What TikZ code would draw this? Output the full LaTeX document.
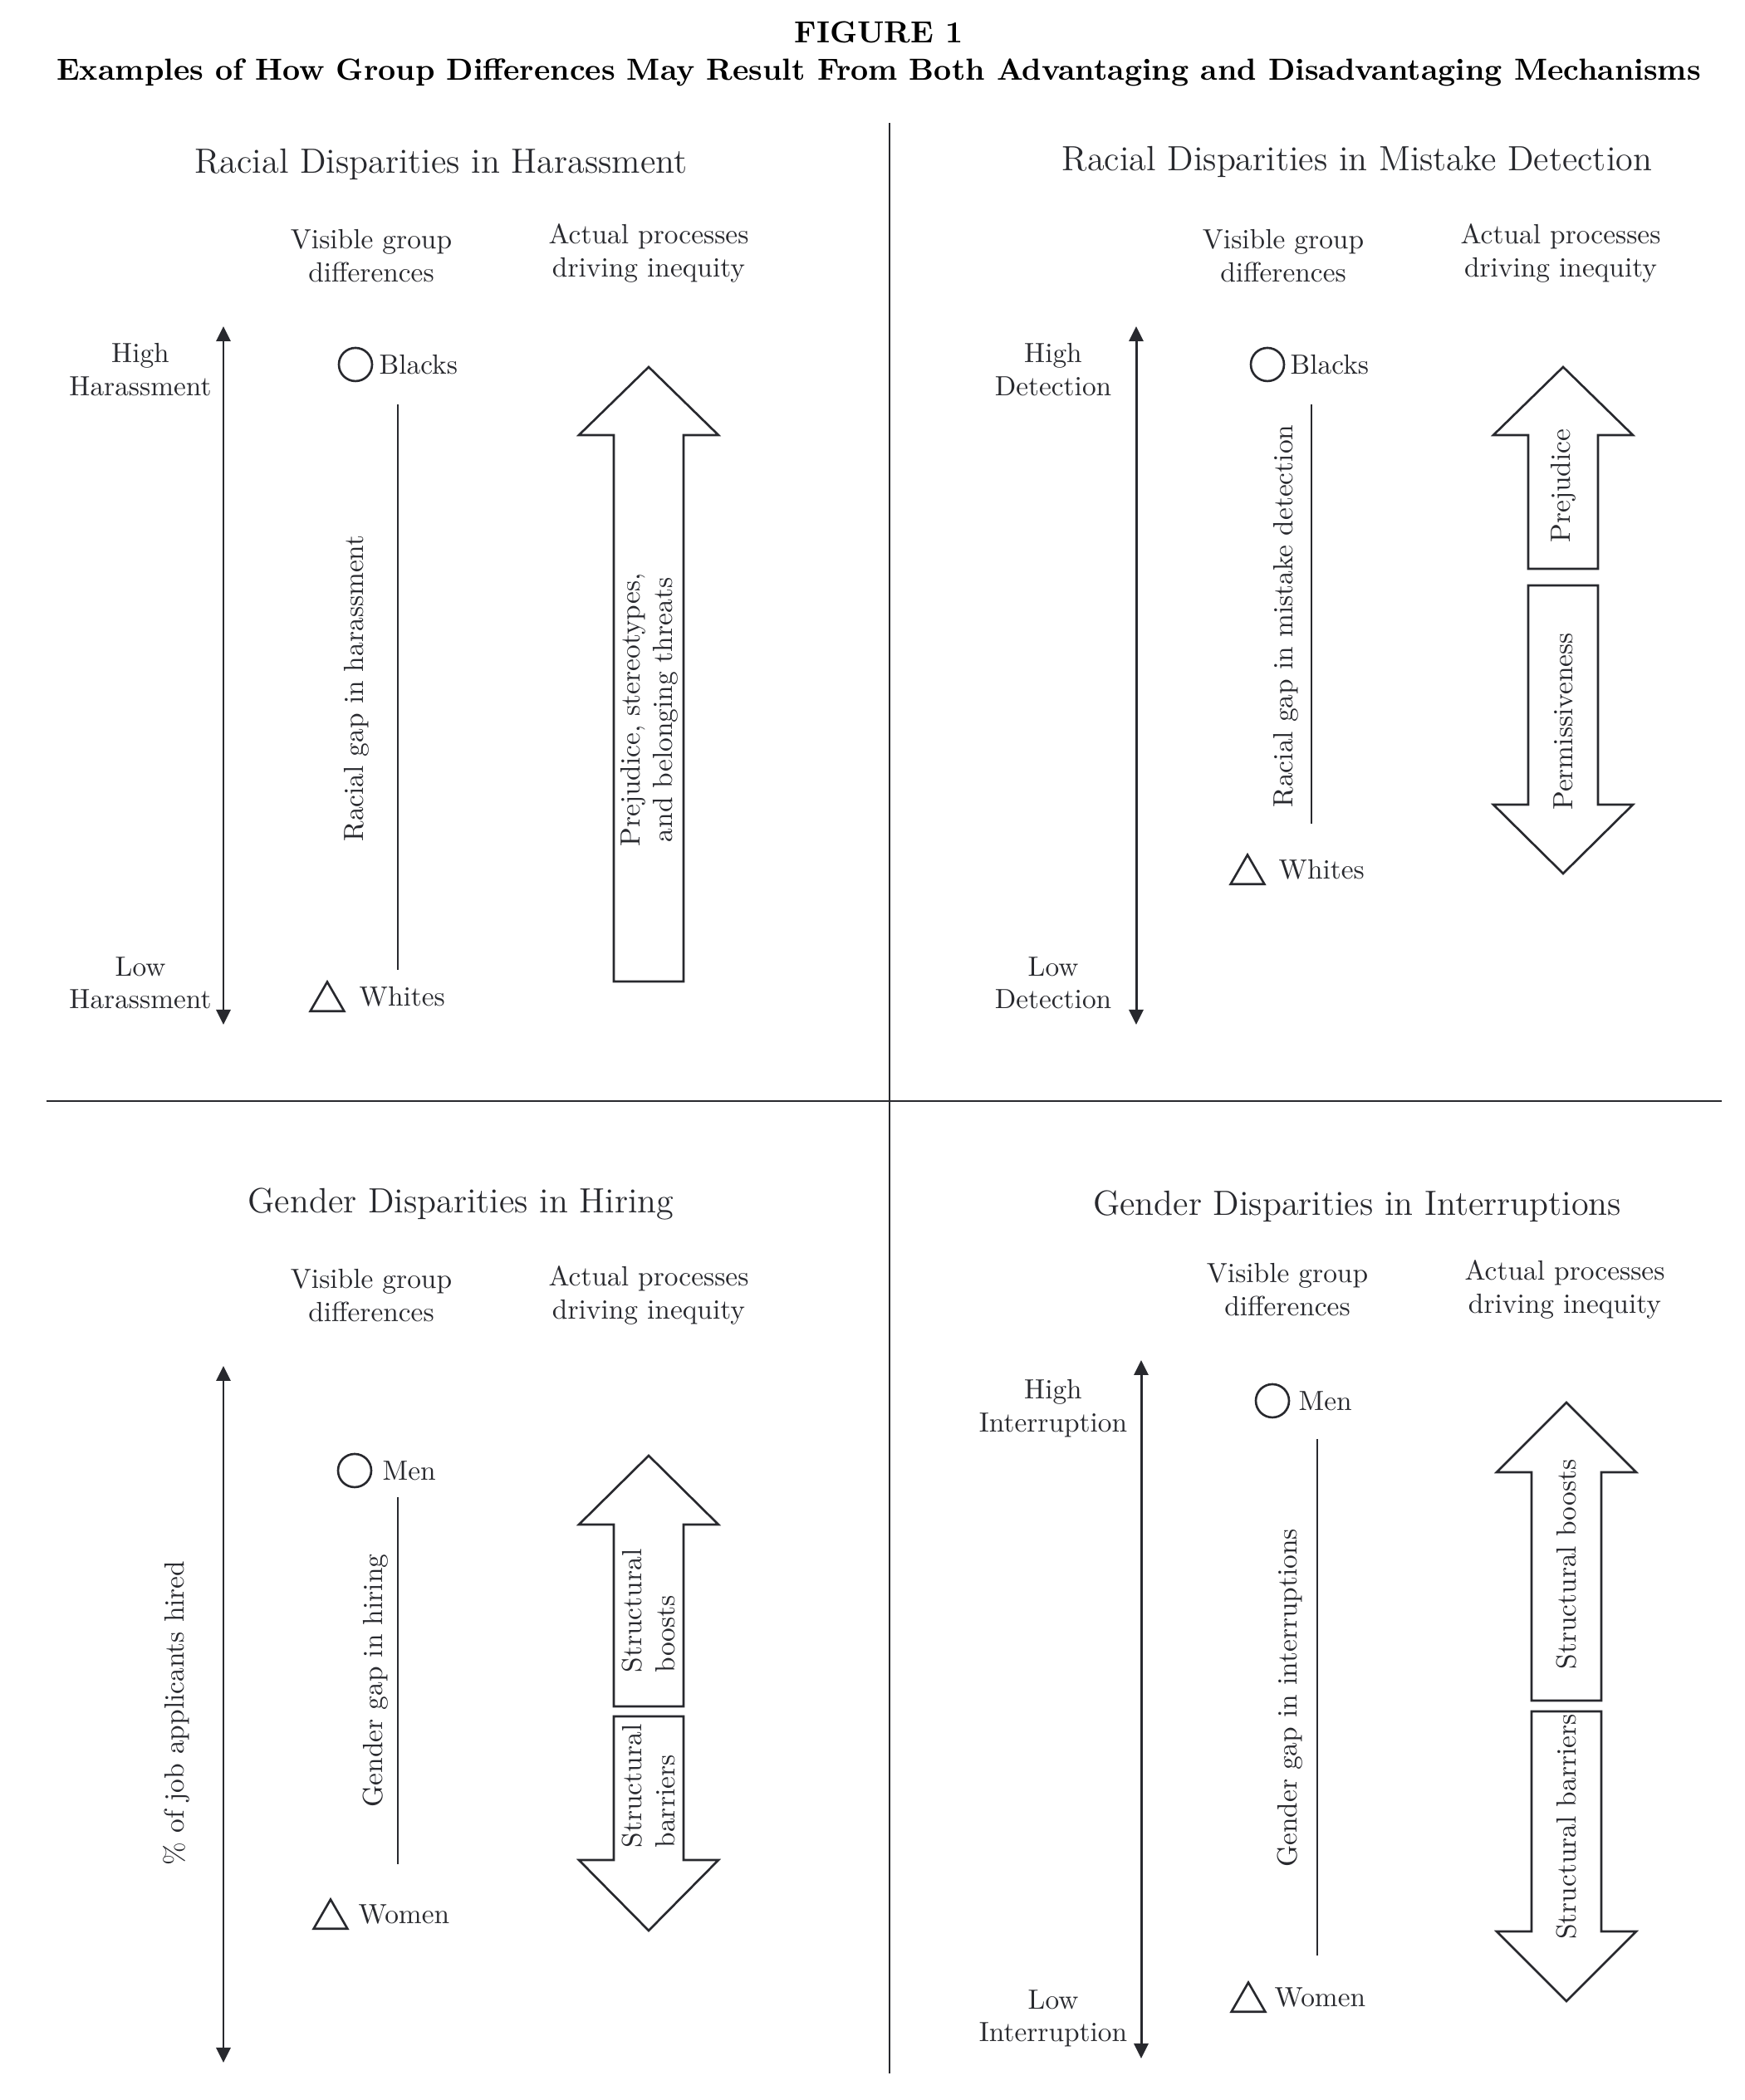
\documentclass[tikz,border=0pt]{standalone}
\usetikzlibrary{arrows.meta,shapes.geometric}
\definecolor{ink}{RGB}{40,41,46}
\begin{document}
\begin{tikzpicture}[x=1cm,y=1cm,
  lbl/.style={font=\fontsize{9.5}{11.2}\selectfont,text=ink,align=center,inner sep=0pt},
  ttl/.style={font=\fontsize{12}{14}\selectfont,text=ink,inner sep=0pt},
  axis/.style={draw=ink,line width=0.85pt,{Triangle[length=1.8mm,width=1.7mm]}-{Triangle[length=1.8mm,width=1.7mm]}},
  gapline/.style={draw=ink,line width=0.65pt},
  blk/.style={draw=ink,line width=0.75pt,line join=miter},
  circ/.style={circle,draw=ink,line width=0.75pt,minimum size=4mm,inner sep=0pt},
  tri/.style={regular polygon,regular polygon sides=3,draw=ink,line width=0.75pt,minimum size=4.7mm,inner sep=0pt}]
\useasboundingbox (0,0) rectangle (21,25.29);

\node[font=\fontsize{10.45}{13}\bfseries,text=black] (fig) at (10.58,24.90) {FIGURE 1};
\node[font=\fontsize{10.45}{13}\bfseries,text=black] (sub) at (10.58,24.42) {Examples of How Group Differences May Result From Both Advantaging and Disadvantaging Mechanisms};

\draw[ink,line width=0.7pt] (10.71,23.81) -- (10.71,0.32);
\draw[ink,line width=0.7pt] (0.56,12.03) -- (20.73,12.03);

\node[ttl] (t1) at (5.31,23.31) {Racial Disparities in Harassment};
\node[lbl] (v1) at (4.47,22.21) {Visible group\\differences};
\node[lbl] (p1) at (7.81,22.24) {Actual processes\\driving inequity};
\coordinate (a1top) at (2.69,21.36);
\coordinate (a1bot) at (2.69,12.95);
\draw[axis] (a1bot) -- (a1top);
\node[lbl] (hi1) at (1.69,20.84) {High\\Harassment};
\node[lbl] (lo1) at (1.69,13.45) {Low\\Harassment};
\node[circ] (c1) at (4.28,20.90) {};
\node[lbl,anchor=west] (b1) at (4.56,20.90) {Blacks};
\node[tri] (tr1) at (3.94,13.23) {};
\node[lbl,anchor=west] (w1) at (4.32,13.29) {Whites};
\coordinate (g1top) at (4.79,20.42);
\coordinate (g1bot) at (4.79,13.61);
\draw[gapline] (g1top) -- (g1bot);
\node[lbl,rotate=90] (r1) at (4.29,17.00) {Racial gap in harassment};
\draw[blk] (7.39,13.47) -- (7.39,20.05) -- (6.97,20.05) -- (7.81,20.87) -- (8.65,20.05) -- (8.23,20.05) -- (8.23,13.47) -- cycle;
\node[lbl,rotate=90] (x1) at (7.82,16.74) {Prejudice, stereotypes,\\and belonging threats};

\node[ttl] (t2) at (16.34,23.34) {Racial Disparities in Mistake Detection};
\node[lbl] (v2) at (15.45,22.21) {Visible group\\differences};
\node[lbl] (p2) at (18.79,22.24) {Actual processes\\driving inequity};
\coordinate (a2top) at (13.68,21.36);
\coordinate (a2bot) at (13.68,12.95);
\draw[axis] (a2bot) -- (a2top);
\node[lbl] (hi2) at (12.68,20.84) {High\\Detection};
\node[lbl] (lo2) at (12.68,13.45) {Low\\Detection};
\node[circ] (c2) at (15.26,20.90) {};
\node[lbl,anchor=west] (b2) at (15.53,20.90) {Blacks};
\node[tri] (tr2) at (15.02,14.76) {};
\node[lbl,anchor=west] (w2) at (15.39,14.82) {Whites};
\coordinate (g2top) at (15.79,20.42);
\coordinate (g2bot) at (15.79,15.37);
\draw[gapline] (g2top) -- (g2bot);
\node[lbl,rotate=90] (r2) at (15.48,17.87) {Racial gap in mistake detection};
\draw[blk] (18.40,18.44) -- (18.40,20.05) -- (17.98,20.05) -- (18.82,20.87) -- (19.66,20.05) -- (19.24,20.05) -- (19.24,18.44) -- cycle;
\node[lbl,rotate=90] (x2) at (18.82,19.44) {Prejudice};
\draw[blk] (18.40,18.24) -- (18.40,15.60) -- (17.98,15.60) -- (18.82,14.77) -- (19.66,15.60) -- (19.24,15.60) -- (19.24,18.24) -- cycle;
\node[lbl,rotate=90] (y2) at (18.82,16.60) {Permissiveness};

\node[ttl] (t3) at (5.55,10.79) {Gender Disparities in Hiring};
\node[lbl] (v3) at (4.47,9.69) {Visible group\\differences};
\node[lbl] (p3) at (7.81,9.69) {Actual processes\\driving inequity};
\coordinate (a3top) at (2.69,8.84);
\coordinate (a3bot) at (2.69,0.45);
\draw[axis] (a3bot) -- (a3top);
\node[lbl,rotate=90] (h3) at (2.12,4.66) {\% of job applicants hired};
\node[circ] (c3) at (4.27,7.58) {};
\node[lbl,anchor=west] (b3) at (4.60,7.58) {Men};
\node[tri] (tr3) at (3.98,2.18) {};
\node[lbl,anchor=west] (w3) at (4.31,2.24) {Women};
\coordinate (g3top) at (4.79,7.26);
\coordinate (g3bot) at (4.79,2.84);
\draw[gapline] (g3top) -- (g3bot);
\node[lbl,rotate=90] (r3) at (4.52,5.05) {Gender gap in hiring};
\draw[blk] (7.39,4.74) -- (7.39,6.93) -- (6.97,6.93) -- (7.81,7.76) -- (8.65,6.93) -- (8.23,6.93) -- (8.23,4.74) -- cycle;
\node[lbl,rotate=90,align=left] (x3) at (7.81,5.89) {Structural\\boosts};
\draw[blk] (7.39,4.62) -- (7.39,2.89) -- (6.97,2.89) -- (7.81,2.04) -- (8.65,2.89) -- (8.23,2.89) -- (8.23,4.62) -- cycle;
\node[lbl,rotate=90,align=left] (y3) at (7.81,3.78) {Structural\\barriers};

\node[ttl] (t4) at (16.34,10.76) {Gender Disparities in Interruptions};
\node[lbl] (v4) at (15.50,9.76) {Visible group\\differences};
\node[lbl] (p4) at (18.84,9.76) {Actual processes\\driving inequity};
\coordinate (a4top) at (13.74,8.91);
\coordinate (a4bot) at (13.74,0.50);
\draw[axis] (a4bot) -- (a4top);
\node[lbl] (hi4) at (12.68,8.33) {High\\Interruption};
\node[lbl] (lo4) at (12.68,0.98) {Low\\Interruption};
\node[circ] (c4) at (15.32,8.42) {};
\node[lbl,anchor=west] (b4) at (15.63,8.42) {Men};
\node[tri] (tr4) at (15.03,1.18) {};
\node[lbl,anchor=west] (w4) at (15.34,1.24) {Women};
\coordinate (g4top) at (15.86,7.96);
\coordinate (g4bot) at (15.86,1.74);
\draw[gapline] (g4top) -- (g4bot);
\node[lbl,rotate=90] (r4) at (15.53,4.84) {Gender gap in interruptions};
\draw[blk] (18.44,4.81) -- (18.44,7.56) -- (18.02,7.56) -- (18.86,8.40) -- (19.70,7.56) -- (19.28,7.56) -- (19.28,4.81) -- cycle;
\node[lbl,rotate=90] (x4) at (18.86,6.45) {Structural boosts};
\draw[blk] (18.44,4.68) -- (18.44,2.03) -- (18.02,2.03) -- (18.86,1.19) -- (19.70,2.03) -- (19.28,2.03) -- (19.28,4.68) -- cycle;
\node[lbl,rotate=90] (y4) at (18.86,3.29) {Structural barriers};
\end{tikzpicture}
\end{document}
